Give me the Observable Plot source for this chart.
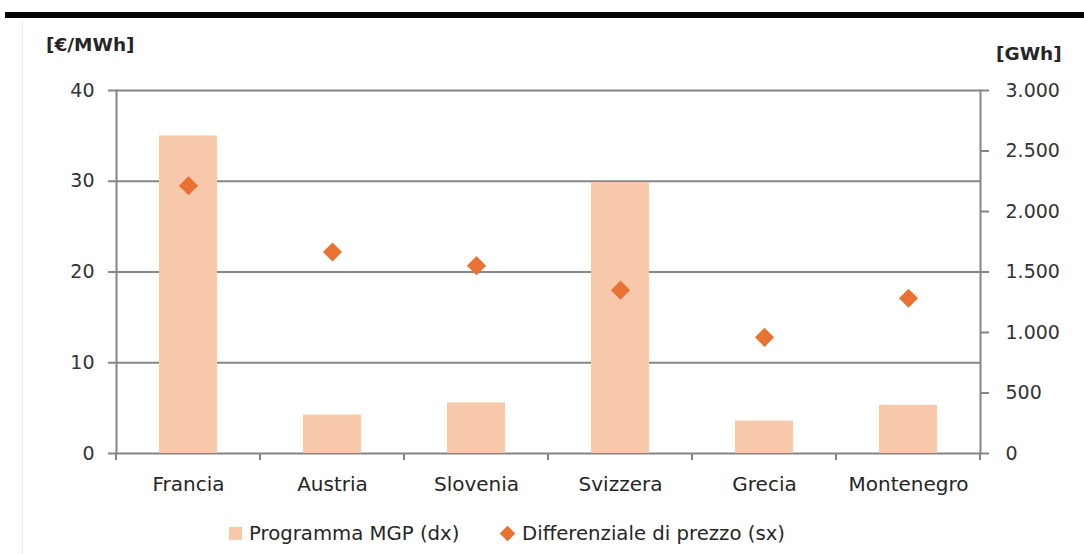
<!DOCTYPE html>
<html>
<head>
<meta charset="utf-8">
<script src="https://cdn.jsdelivr.net/npm/d3@7"></script>
<script src="https://cdn.jsdelivr.net/npm/@observablehq/plot@0.6"></script>
<style>
  html, body { margin: 0; padding: 0; background: #fff; }
  #wrap { position: relative; width: 1084px; height: 554px; overflow: hidden; font-family: "DejaVu Sans", sans-serif; }
  #topbar { position: absolute; left: 5px; right: 0; top: 12px; height: 6px; background: #000; }
  #frame { position: absolute; left: 22px; top: 20px; bottom: 0; width: 0; border-left: 1px solid #ececec; }
  .unit { position: absolute; font-weight: bold; font-size: 18.5px; color: #262626; line-height: 1; }
  #chart { position: absolute; left: 0; top: 0; }
  #legend { position: absolute; left: 0; top: 500px; width: 1084px; height: 54px; font-size: 19.7px; color: #262626; }
  .lg { position: absolute; line-height: 1; }
</style>
</head>
<body>
<div id="wrap">
  <div id="frame"></div>
  <div id="topbar"></div>
  <div id="chart"></div>
  <div class="unit" style="left:46px; top:36px;">[€/MWh]</div>
  <div class="unit" style="left:996px; top:45px;">[GWh]</div>
  <div id="legend">
    <div class="lg" style="left:229px; top:27px; width:13px; height:13px; background:#F7C8AA;"></div>
    <div class="lg" style="left:249px; top:24px;">Programma MGP (dx)</div>
    <div class="lg" style="left:502px; top:28px; width:11px; height:11px; background:#E97132; transform: rotate(45deg);"></div>
    <div class="lg" style="left:522px; top:24px;">Differenziale di prezzo (sx)</div>
  </div>
</div>
<script>
// ---- data ----
const categories = ["Francia", "Austria", "Slovenia", "Svizzera", "Grecia", "Montenegro"];
const programmaMGP = [2625, 318, 418, 2240, 268, 398];      // GWh (right axis)
const differenziale = [29.5, 22.2, 20.7, 18.0, 12.8, 17.1];  // €/MWh (left axis)
const leftTicks = [0, 10, 20, 30, 40];
const rightTicks = [0, 500, 1000, 1500, 2000, 2500, 3000];
const leftMax = 40;
const rightMax = 3000;

const rows = categories.map((c, i) => ({ c, mgp: programmaMGP[i], diff: differenziale[i] }));
const toLeft = v => v * leftMax / rightMax;
const it = d3.formatLocale({ decimal: ",", thousands: ".", grouping: [3], currency: ["€", ""] });
const fmt = it.format(",d");

const axisColor = "#868686";

function boundaryTicks(index, scales) {
  const x = scales.x, y = scales.y;
  const bw = x.bandwidth();
  const bounds = categories.map(c => x(c)).concat([x(categories[categories.length - 1]) + bw]);
  const y0 = y(0);
  const g = d3.create("svg:g");
  g.selectAll("line").data(bounds).join("line")
    .attr("x1", d => d).attr("x2", d => d)
    .attr("y1", y0).attr("y2", y0 + 7)
    .attr("stroke", axisColor).attr("stroke-width", 2);
  return g.node();
}

const chart = Plot.plot({
  width: 1084,
  height: 500,
  marginTop: 90,
  marginBottom: 47,
  marginLeft: 116,
  marginRight: 104,
  style: { fontFamily: "DejaVu Sans, sans-serif", fontSize: "19px", color: "#333333", background: "transparent", overflow: "visible" },
  x: { domain: categories, padding: 0, label: null },
  y: { domain: [0, leftMax], label: null },
  marks: [
    Plot.ruleY(leftTicks, { stroke: axisColor, strokeWidth: 2 }),
    Plot.barY(rows, { x: "c", y: d => toLeft(d.mgp), fill: "#F7C8AA", insetLeft: 43, insetRight: 43 }),
    Plot.dot(rows, { x: "c", y: "diff", symbol: "diamond2", r: 8.6, fill: "#E97132", stroke: "none" }),
    Plot.frame({ anchor: "left", stroke: axisColor, strokeWidth: 2 }),
    Plot.frame({ anchor: "right", stroke: axisColor, strokeWidth: 2 }),
    Plot.axisY(leftTicks, { anchor: "left", tickSize: 8, tickPadding: 14, stroke: axisColor, strokeWidth: 2, label: null, fill: "#333333" }),
    Plot.axisY(rightTicks.map(toLeft), { anchor: "right", tickSize: 8, tickPadding: 17, stroke: axisColor, strokeWidth: 2, label: null, fill: "#333333",
      tickFormat: v => fmt(Math.round(v * rightMax / leftMax)) }),
    Plot.axisX({ anchor: "bottom", tickSize: 0, tickPadding: 23, label: null, fontSize: 20, fill: "#262626" }),
    boundaryTicks
  ]
});
document.getElementById("chart").appendChild(chart);
</script>
</body>
</html>
